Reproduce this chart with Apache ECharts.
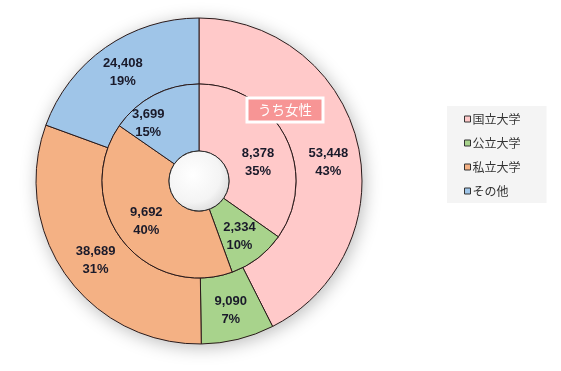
<!DOCTYPE html>
<html>
<head>
<meta charset="utf-8">
<script src="https://cdn.jsdelivr.net/npm/echarts@6/dist/echarts.min.js"></script>
<style>html,body{margin:0;padding:0;background:#fff;}#c{width:561px;height:371px;}</style>
</head>
<body>
<div id="c"></div>
<script>
var categories = ['国立大学', '公立大学', '私立大学', 'その他'];
var totalValues = [53448, 9090, 38689, 24408];
var womenValues = [8378, 2334, 9692, 3699];
var womenLabel = 'うち女性';

var colors = ['#FFC9C9', '#A8D38C', '#F4B184', '#9FC5E8'];
var CX = 199, CY = 181, R_OUT = 163, R_MID = 97, R_HOLE = 30;
var outerOffsets = [[0, 12], [0, 0], [5, 2], [0, 0]];
var innerOffsets = [[0, 12], [0, 3], [0, 0], [-20, 1]];

function fmt(n) { return n.toString().replace(/\B(?=(\d{3})+(?!\d))/g, ','); }
function buildData(vals, offs) {
  var tot = vals.reduce(function (a, b) { return a + b; }, 0);
  return vals.map(function (v, i) {
    return {
      name: categories[i], value: v,
      pct: Math.round(v / tot * 100),
      itemStyle: { color: colors[i] },
      label: { offset: offs[i] }
    };
  });
}
var labelStyle = {
  show: true, position: 'inside',
  fontFamily: 'Liberation Sans', fontWeight: 'bold', fontSize: 13,
  color: '#1a1a2a', lineHeight: 18,
  formatter: function (p) { return fmt(p.value) + '\n' + p.data.pct + '%'; }
};

var chart = echarts.init(document.getElementById('c'));
chart.setOption({
  animation: false,
  backgroundColor: '#ffffff',
  legend: {
    orient: 'vertical', left: 447, top: 106,
    data: categories,
    backgroundColor: '#F4F4F4',
    padding: [7, 26, 6, 17],
    itemWidth: 6, itemHeight: 6, itemGap: 12,
    icon: 'rect',
    itemStyle: { borderColor: '#333', borderWidth: 1 },
    textStyle: { fontFamily: 'Noto Sans CJK JP', fontSize: 12, color: '#333', padding: [0, 0, 0, -3] }
  },
  graphic: {
    elements: [
      {
        type: 'circle', z: -10, silent: true,
        shape: { cx: CX, cy: CY, r: R_OUT },
        style: { fill: '#fff', shadowBlur: 18, shadowColor: 'rgba(0,0,0,0.28)', shadowOffsetX: 2, shadowOffsetY: 3 }
      },
      {
        type: 'circle', z: 100, silent: true,
        shape: { cx: CX, cy: CY, r: R_HOLE },
        style: {
          fill: new echarts.graphic.RadialGradient(0.4, 0.4, 0.75, [
            { offset: 0, color: '#ffffff' }, { offset: 0.6, color: '#f4f4f4' }, { offset: 1, color: '#cfcfcf' }
          ]),
          stroke: '#2a2a2a', lineWidth: 1
        }
      },
      {
        type: 'rect', z: 100, silent: true,
        shape: { x: 247, y: 98, width: 76, height: 24 },
        style: { fill: '#F79595', stroke: '#ffffff', lineWidth: 3 }
      },
      {
        type: 'text', z: 101, silent: true,
        x: 285, y: 110,
        style: { text: womenLabel, fill: '#ffffff', fontFamily: 'Noto Sans CJK JP', fontSize: 13.5, align: 'center', verticalAlign: 'middle' }
      }
    ]
  },
  series: [
    {
      type: 'pie', name: '合計', center: [CX, CY], radius: [R_MID, R_OUT],
      startAngle: 90, clockwise: true, avoidLabelOverlap: false,
      itemStyle: { borderColor: '#2a1a1a', borderWidth: 1 },
      label: labelStyle, labelLine: { show: false },
      emphasis: { disabled: true },
      data: buildData(totalValues, outerOffsets)
    },
    {
      type: 'pie', name: womenLabel, center: [CX, CY], radius: [R_HOLE, R_MID],
      startAngle: 90, clockwise: true, avoidLabelOverlap: false,
      itemStyle: { borderColor: '#2a1a1a', borderWidth: 1 },
      label: labelStyle, labelLine: { show: false },
      emphasis: { disabled: true },
      data: buildData(womenValues, innerOffsets)
    }
  ]
});
</script>
</body>
</html>
